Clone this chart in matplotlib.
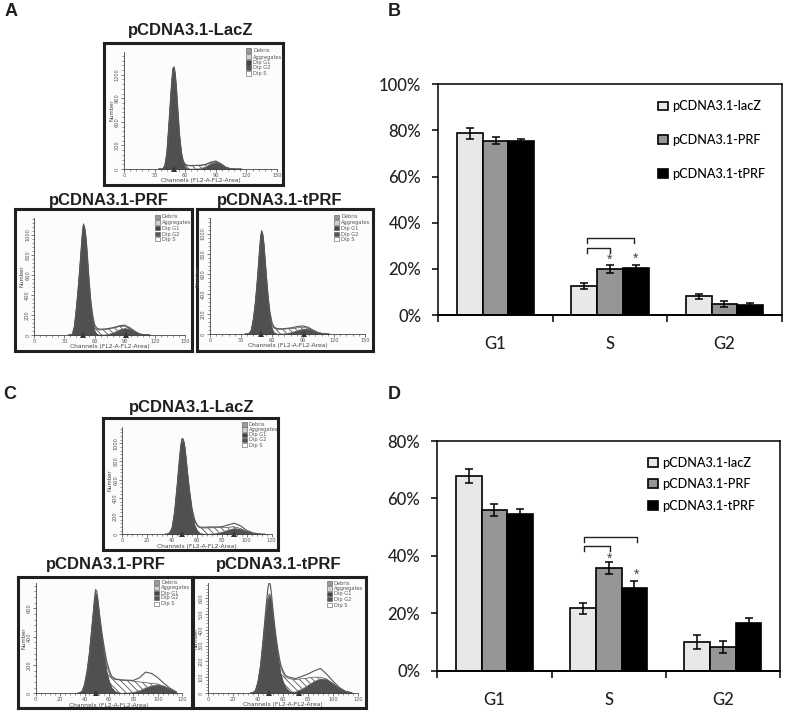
import numpy as np
import matplotlib
matplotlib.use("Agg")
import matplotlib.pyplot as plt
from matplotlib.patches import Rectangle
from matplotlib.ticker import MultipleLocator

W, H = 787, 713

# bar charts
phases = ["G1", "S", "G2"]
constructs = ["pCDNA3.1-lacZ", "pCDNA3.1-PRF", "pCDNA3.1-tPRF"]

b_lacz = [78.8, 12.6, 8.2]
b_prf = [75.6, 19.8, 4.6]
b_tprf = [75.3, 20.5, 4.2]
b_lacz_err = [2.3, 1.3, 1.1]
b_prf_err = [1.6, 1.7, 1.3]
b_tprf_err = [1.1, 1.2, 1.1]

d_lacz = [67.8, 21.7, 10.0]
d_prf = [55.9, 35.7, 8.2]
d_tprf = [54.6, 28.9, 16.5]
d_lacz_err = [2.4, 2.0, 2.3]
d_prf_err = [2.1, 2.1, 2.0]
d_tprf_err = [1.6, 2.4, 2.0]

b_ticks = [0, 20, 40, 60, 80, 100]
d_ticks = [0, 20, 40, 60, 80]

# brackets: x start, x end, top, end of the drop
b_brackets = [(0.80, 1.21, 33.2, 31.4), (0.80, 1.00, 29.0, 27.0)]
d_brackets = [(0.78, 1.25, 46.7, 44.7), (0.78, 1.01, 43.4, 41.7)]
b_stars = [(1.00, 24.0), (1.22, 24.4)]
d_stars = [(1.01, 39.0), (1.24, 33.4)]

# flow cytometry histograms, read per channel
channels = [34, 36, 38, 40, 42, 44, 46, 47, 48, 49, 50, 51, 52, 54, 56, 58, 60, 62, 65,
            70, 75, 80, 85, 90, 95, 100, 105, 110, 115]

a1_g1 = [0, 0, 2, 40, 200, 560, 960, 1140, 1270, 1290, 1200, 1040, 840, 450, 200, 70, 22, 5, 0,
         0, 0, 0, 0, 0, 0, 0, 0, 0, 0]
a1_s = [0, 0, 0, 0, 0, 2, 5, 6, 8, 10, 12, 14, 16, 20, 25, 30, 35, 38, 40,
        42, 38, 25, 12, 6, 3, 1, 0, 0, 0]
a1_g2 = [0, 0, 0, 0, 0, 0, 0, 0, 0, 0, 0, 0, 0, 0, 0, 0, 0, 0, 0,
         2, 8, 30, 70, 88, 60, 18, 3, 0, 0]
a1_agg = [0, 0, 0, 0, 0, 0, 0, 0, 0, 0, 0, 0, 0, 0, 0, 3, 4, 4, 3,
          2, 2, 3, 5, 8, 5, 2, 0, 0, 0]

a2_g1 = [0, 0, 10, 90, 280, 500, 760, 900, 1030, 1100, 1060, 980, 860, 560, 300, 130, 40, 10, 0,
         0, 0, 0, 0, 0, 0, 0, 0, 0, 0]
a2_s = [0, 0, 0, 0, 0, 2, 5, 6, 8, 10, 12, 15, 18, 25, 30, 35, 40, 45, 50,
        52, 50, 42, 30, 18, 8, 3, 0, 0, 0]
a2_g2 = [0, 0, 0, 0, 0, 0, 0, 0, 0, 0, 0, 0, 0, 0, 0, 0, 0, 0, 0,
         3, 12, 30, 55, 68, 58, 32, 10, 2, 0]
a2_agg = [0, 0, 0, 0, 0, 0, 0, 0, 0, 0, 0, 0, 5, 15, 30, 40, 25, 15, 8,
          5, 5, 6, 8, 12, 8, 3, 0, 0, 0]

a3_g1 = [0, 0, 5, 40, 150, 320, 560, 700, 840, 960, 1020, 980, 880, 600, 340, 150, 50, 12, 0,
         0, 0, 0, 0, 0, 0, 0, 0, 0, 0]
a3_s = [0, 0, 0, 0, 0, 2, 5, 6, 8, 10, 12, 15, 18, 24, 30, 35, 40, 45, 48,
        46, 44, 36, 24, 15, 7, 2, 0, 0, 0]
a3_g2 = [0, 0, 0, 0, 0, 0, 0, 0, 0, 0, 0, 0, 0, 0, 0, 0, 0, 0, 0,
         2, 8, 20, 38, 50, 50, 32, 12, 3, 0]
a3_agg = [0, 0, 0, 0, 0, 0, 0, 0, 0, 0, 0, 0, 5, 15, 30, 35, 25, 12, 6,
          4, 5, 8, 14, 16, 10, 3, 0, 0, 0]

c1_g1 = [0, 2, 15, 70, 240, 520, 830, 960, 1030, 1020, 950, 820, 680, 430, 220, 100, 40, 12, 3,
         0, 0, 0, 0, 0, 0, 0, 0, 0, 0]
c1_s = [0, 0, 0, 0, 2, 6, 12, 16, 20, 24, 28, 32, 36, 42, 48, 52, 56, 60, 65,
        68, 62, 48, 30, 16, 8, 3, 0, 0, 0]
c1_g2 = [0, 0, 0, 0, 0, 0, 0, 0, 0, 0, 0, 0, 0, 0, 0, 0, 0, 0, 1,
         3, 10, 25, 48, 66, 55, 30, 12, 3, 0]
c1_agg = [0, 0, 0, 0, 0, 0, 0, 0, 0, 0, 0, 0, 0, 5, 15, 15, 10, 8, 8,
          10, 8, 10, 25, 40, 30, 10, 3, 0, 0]

c2_g1 = [0, 3, 15, 60, 150, 280, 460, 550, 640, 700, 680, 620, 540, 390, 260, 150, 85, 40, 12,
         0, 0, 0, 0, 0, 0, 0, 0, 0, 0]
c2_s = [0, 0, 0, 2, 4, 6, 8, 10, 12, 14, 16, 18, 20, 30, 40, 50, 60, 72, 85,
        92, 88, 78, 60, 35, 15, 5, 0, 0, 0]
c2_g2 = [0, 0, 0, 0, 0, 0, 0, 0, 0, 0, 0, 0, 0, 0, 0, 0, 0, 0, 0,
         1, 3, 8, 20, 40, 55, 60, 50, 30, 10]
c2_agg = [0, 0, 0, 0, 0, 0, 0, 0, 5, 20, 25, 20, 15, 20, 30, 30, 25, 10, 5,
          2, 2, 5, 30, 75, 70, 45, 20, 5, 0]

c3_g1 = [0, 3, 15, 70, 170, 320, 480, 545, 595, 615, 600, 550, 480, 340, 215, 120, 70, 35, 10,
         0, 0, 0, 0, 0, 0, 0, 0, 0, 0]
c3_s = [0, 0, 0, 1, 2, 4, 6, 8, 10, 12, 14, 16, 18, 25, 35, 45, 55, 65, 78,
        78, 65, 45, 25, 10, 3, 0, 0, 0, 0]
c3_g2 = [0, 0, 0, 0, 0, 0, 0, 0, 0, 0, 0, 0, 0, 0, 0, 0, 0, 0, 2,
         8, 25, 50, 75, 90, 85, 60, 30, 10, 2]
c3_agg = [0, 0, 0, 0, 0, 5, 20, 40, 60, 75, 65, 40, 25, 15, 20, 20, 15, 10, 10,
          5, 15, 25, 40, 55, 30, 15, 5, 0, 0]

legend_names = ["Debris", "Aggregates", "Dip G1", "Dip G2", "Dip S"]
legend_colors = ["#9a9a9a", "#d0d0d0", "#444444", "#555555", "#ffffff"]

plt.rcParams["hatch.linewidth"] = 0.6
fig = plt.figure(figsize=(W / 100, H / 100), dpi=100)


def box(x0, y0, x1, y1):
    # pixel box, y measured from the top of the picture
    return [x0 / W, 1 - y1 / H, (x1 - x0) / W, (y1 - y0) / H]


def label(x, y, s, **kw):
    fig.text(x / W, 1 - y / H, s, **kw)


def histogram(frame, axis, xmax, xstep, ymax, ystep, g1, s, g2, agg, marks, leg_x, leg_y):
    fx = fig.add_axes(box(*frame))
    fx.set_xticks([])
    fx.set_yticks([])
    fx.set_facecolor("#fcfcfc")
    for sp in fx.spines.values():
        sp.set_linewidth(2.2)
        sp.set_color("#231f20")

    ax = fig.add_axes(box(*axis))
    ax.patch.set_alpha(0)
    ch = np.array(channels)
    g1, s, g2, agg = [np.array(v, float) for v in (g1, s, g2, agg)]
    base = np.maximum(g1, g2)
    stack = g1 + g2 + s
    total = stack + agg
    ax.fill_between(ch, base, stack, facecolor="white", edgecolor="#555555", hatch="\\" * 5, lw=0.2)
    ax.plot(ch, stack, color="#666666", lw=0.5)
    ax.plot(ch, total, color="#555555", lw=0.8)
    ax.fill_between(ch, g1, facecolor="#505050", edgecolor="#505050", lw=0.7)
    ax.fill_between(ch, g2, facecolor="#505050", edgecolor="#505050", lw=0.5)
    ax.plot(marks, [0] * len(marks), "^", color="#333333", ms=4.5, clip_on=False, mew=0)

    ax.set_xlim(0, xmax)
    ax.set_ylim(0, ymax)
    ax.spines["top"].set_visible(False)
    ax.spines["right"].set_visible(False)
    for k in ("left", "bottom"):
        ax.spines[k].set_linewidth(0.6)
        ax.spines[k].set_color("#444444")
    ax.xaxis.set_major_locator(MultipleLocator(xstep))
    ax.xaxis.set_minor_locator(MultipleLocator(xstep / 5))
    ax.yaxis.set_major_locator(MultipleLocator(ystep))
    ax.yaxis.set_minor_locator(MultipleLocator(ystep / 5))
    ax.tick_params(which="major", length=2.2, width=0.5, color="#444444", labelsize=3.6,
                   labelcolor="#555555", pad=0.8)
    ax.tick_params(which="minor", length=1.2, width=0.4, color="#444444")
    ax.tick_params(axis="y", labelrotation=90)
    for t in ax.get_yticklabels():
        t.set_va("center")
    ax.set_xlabel("Channels (FL2-A-FL2-Area)", fontsize=4.3, color="#444444", labelpad=0.2)
    ax.set_ylabel("Number", fontsize=3.9, color="#444444", labelpad=0.2)

    for name, col, y in zip(legend_names, legend_colors, leg_y):
        fig.add_artist(Rectangle((leg_x / W, 1 - (y + 2) / H), 5 / W, 4.5 / H, transform=fig.transFigure,
                                 facecolor=col, edgecolor="#555555", lw=0.4))
        label(leg_x + 7, y, name, fontsize=3.7, color="#555555", va="center")


def bars(rect, lacz, prf, tprf, lacz_err, prf_err, tprf_err, ymax, ticks, brackets, stars, leg):
    ax = fig.add_axes(box(*rect))
    x = np.arange(len(phases))
    w = 0.225
    err = dict(ecolor="black", elinewidth=1.1, capsize=2.6, capthick=1.1)
    ax.bar(x - w, lacz, w, yerr=lacz_err, color="#e8e8e8", edgecolor="black", lw=1.2, error_kw=err,
           label=constructs[0])
    ax.bar(x, prf, w, yerr=prf_err, color="#969696", edgecolor="black", lw=1.2, error_kw=err,
           label=constructs[1])
    ax.bar(x + w, tprf, w, yerr=tprf_err, color="black", edgecolor="black", lw=1.2, error_kw=err,
           label=constructs[2])

    for x0, x1, top, drop in brackets:
        ax.plot([x0, x0, x1, x1], [drop, top, top, drop], color="#222222", lw=1.0)
    for sx, sy in stars:
        ax.text(sx, sy, "*", ha="center", va="center", fontsize=10, color="#444444",
                family="Liberation Sans")

    ax.set_xlim(-0.5, 2.5)
    ax.set_ylim(0, ymax)
    ax.set_yticks(ticks)
    ax.set_yticklabels([f"{t}%" for t in ticks], fontsize=12, family="Lato", fontweight="medium",
                       color="#222222")
    ax.set_xticks([-0.5, 0.5, 1.5, 2.5])
    ax.set_xticklabels([])
    ax.set_xticks(x, phases, minor=True, fontsize=12, family="Lato", fontweight="medium", color="#222222")
    ax.tick_params(axis="x", which="major", length=5, width=1.1)
    ax.tick_params(axis="x", which="minor", length=0, pad=15)
    ax.tick_params(axis="y", length=4.2, width=1.1, pad=8)
    for sp in ax.spines.values():
        sp.set_linewidth(1.1)
    ax.spines["bottom"].set_linewidth(1.4)
    ax.legend(loc="upper left", bbox_to_anchor=leg[:2], frameon=False, labelspacing=leg[2],
              handlelength=0.8, handleheight=0.7, handletextpad=0.35, borderpad=0, borderaxespad=0,
              prop={"family": "Lato", "weight": "medium", "size": 9.1})


histogram((104, 43, 283, 185), (124, 52, 277, 169), 150, 30, 1490, 300, a1_g1, a1_s, a1_g2, a1_agg,
          [48.7], 246, [51, 57, 62.5, 68, 74])
histogram((15, 209, 192, 351), (34.3, 218, 185, 335), 150, 30, 1170, 200, a2_g1, a2_s, a2_g2, a2_agg,
          [48, 91], 155, [217, 222.7, 228.3, 234, 239.3])
histogram((197, 209, 373, 351), (210, 218, 365, 334), 150, 30, 1160, 200, a3_g1, a3_s, a3_g2, a3_agg,
          [49, 91], 334, [217, 222.7, 228.3, 234, 239.3])
histogram((103, 418, 278, 550), (122.3, 427, 271.7, 534.3), 120, 20, 1179, 200, c1_g1, c1_s, c1_g2, c1_agg,
          [48, 90], 241.7, [425, 429.7, 435, 440, 445.3])
histogram((18, 577, 192, 708), (35.7, 583, 182.3, 693.3), 120, 20, 780, 200, c2_g1, c2_s, c2_g2, c2_agg,
          [49], 154, [582.7, 588, 593, 598, 604])
histogram((193, 577, 366, 708), (208, 583, 358, 693), 120, 20, 695, 100, c3_g1, c3_s, c3_g2, c3_agg,
          [49, 73], 327, [583.3, 588.7, 594, 599.3, 605])

bars((438.3, 84.3, 781.7, 315), b_lacz, b_prf, b_tprf, b_lacz_err, b_prf_err, b_tprf_err, 100, b_ticks,
     b_brackets, b_stars, (0.64, 0.93, 1.72))
bars((437.3, 441, 780, 670.7), d_lacz, d_prf, d_tprf, d_lacz_err, d_prf_err, d_tprf_err, 80, d_ticks,
     d_brackets, d_stars, (0.615, 0.93, 0.73))

titles = [(190.8, 31, "pCDNA3.1-LacZ"), (109, 200, "pCDNA3.1-PRF"), (280, 200, "pCDNA3.1-tPRF"),
          (191.5, 407.7, "pCDNA3.1-LacZ"), (105.5, 564, "pCDNA3.1-PRF"), (279, 565, "pCDNA3.1-tPRF")]
for tx, ty, t in titles:
    label(tx, ty, t, fontsize=12, fontweight="bold", family="Liberation Sans", ha="center", va="center",
          color="#231f20")

letters = [(5, 12, "A"), (388, 11, "B"), (3, 395, "C"), (388, 395, "D")]
for lx, ly, t in letters:
    label(lx, ly, t, fontsize=13, fontweight="bold", family="Liberation Sans", va="center", color="#231f20")

fig.savefig("out.png", dpi=100)
